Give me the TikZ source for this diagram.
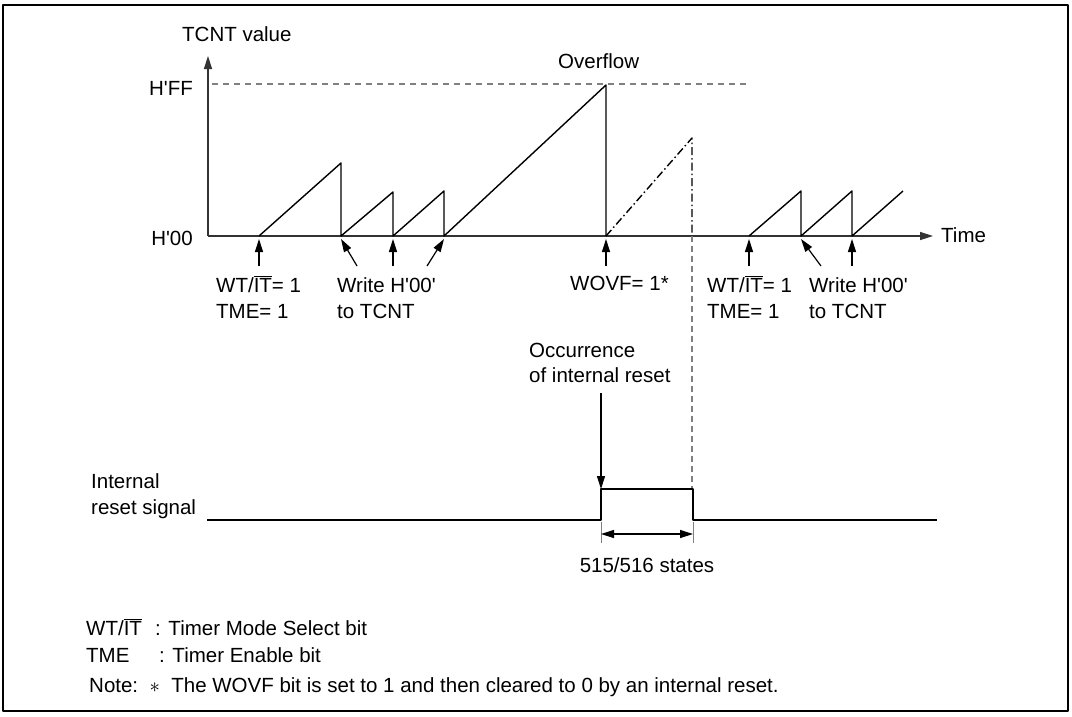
\documentclass[tikz,border=0pt]{standalone}
\usepackage{fontspec}
\setmainfont{Liberation Sans}[Ligatures=TeXOff]
\usetikzlibrary{arrows.meta}
\newcommand{\wtit}{WT/$\overline{\hbox{IT}}$}
\begin{document}
\begin{tikzpicture}[x=1pt,y=-1pt,>={Triangle[length=13pt,width=8pt]},line join=round,
			every node/.style={font=\fontsize{20.5}{24}\selectfont,inner sep=0pt},
			lbl/.style={anchor=base west},
			saw/.style={line width=1.4pt},
			axis/.style={line width=1.5pt,black!80},
			ptr/.style={->,line width=1.2pt},
			declare function={xO = 208; yO = 236; yF = 84; yT = 266; yL = 520; yH = 489; xR = 601; xE = 693; }]
			\useasboundingbox (0,0) rectangle (1072,716);
			%%Khung
			\draw[line width=2.4pt] (3,5) rectangle (1068,711);
			%%Trục
			\coordinate (O) at (xO,yO);
			\draw[axis,->] (O) -- (xO,56) coordinate (ytip);
			\draw[axis,->] (O) -- (933,yO) coordinate (xtip);
			\node[lbl] (tcnt) at (182,41) {TCNT value};
			\node[anchor=base east] (hff) at (193,95) {H'FF};
			\node[anchor=base east] (h00) at (193,245) {H'00};
			\node[lbl] (time) at (941,242) {Time};
			\draw[gray,line width=1.1pt,dash pattern=on 6pt off 5pt] (xO+4,yF) -- (748,yF);
			\node[lbl] (ovf) at (558,68) {Overflow};
			%%Răng cưa
			\draw[saw] (259,yO) -- (341,163) -- (341,yO) -- (393,192) -- (393,yO) -- (444,191) -- (444,yO) -- (606,yF+1) -- (606,yO);
			\draw[saw,dash pattern=on 8pt off 3pt on 1.5pt off 3pt] (606,yO) -- (692,138) -- (692,yO);
			\draw[gray,line width=1.1pt,dash pattern=on 6pt off 4pt] (692,yO) -- (692,yH);
			\draw[saw] (749,yO) -- (801,191) -- (801,yO) -- (852,191) -- (852,yO) -- (903,191);
			%%Mũi tên dưới trục
			\foreach \x/\dx [count=\i] in {259/0, 341/16, 393/0, 444/-17, 606/0, 749/0, 801/20, 852/0}{
				\coordinate (p\i) at (\x,yO+3);
				\draw[ptr] (\x+\dx,yT) -- (p\i);
			}
			\node[lbl] (wt1) at (216,292) {\wtit= 1};
			\node[lbl] (tme1) at (216,318) {TME= 1};
			\node[lbl] (wr1) at (337,292) {Write H'00'};
			\node[lbl] (to1) at (337,318) {to TCNT};
			\node[lbl] (wovf) at (570,290) {WOVF= 1*};
			\node[lbl] (wt2) at (707,292) {\wtit= 1};
			\node[lbl] (tme2) at (707,318) {TME= 1};
			\node[lbl] (wr2) at (809,292) {Write H'00'};
			\node[lbl] (to2) at (809,318) {to TCNT};
			%%Reset
			\node[lbl] (occ) at (529,357) {Occurrence};
			\node[lbl] (occb) at (529,382) {of internal reset};
			\coordinate (rise) at (xR,yH);
			\draw[ptr] (xR,393) -- (rise);
			\node[lbl] (int) at (91,488) {Internal};
			\node[lbl] (rsig) at (91,514) {reset signal};
			\draw[line width=1.5pt] (207,yL) -- (xR,yL) -- (rise) -- (xE,yH) -- (xE,yL) -- (937,yL);
			\draw[gray,line width=0.9pt] (xR,yL+2) -- (xR,543) (xE,yL+2) -- (xE,543);
			\coordinate (dl) at (xR,534);
			\coordinate (dr) at (xE,534);
			\draw[<->,line width=1.2pt] (dl) -- (dr);
			\node[anchor=base] (st) at (647,572) {515/516 states};
			%%Chú thích
			\node[lbl] (lg1) at (86,635) {\wtit};
			\node[lbl] (lg1b) at (155,635) {: Timer Mode Select bit};
			\node[lbl] (lg2) at (86,662) {TME};
			\node[lbl] (lg2b) at (159,662) {: Timer Enable bit};
			\node[lbl] (note) at (89,692) {Note:\ \ $\ast$\ \ The WOVF bit is set to 1 and then cleared to 0 by an internal reset.};
		\end{tikzpicture}
\end{document}
